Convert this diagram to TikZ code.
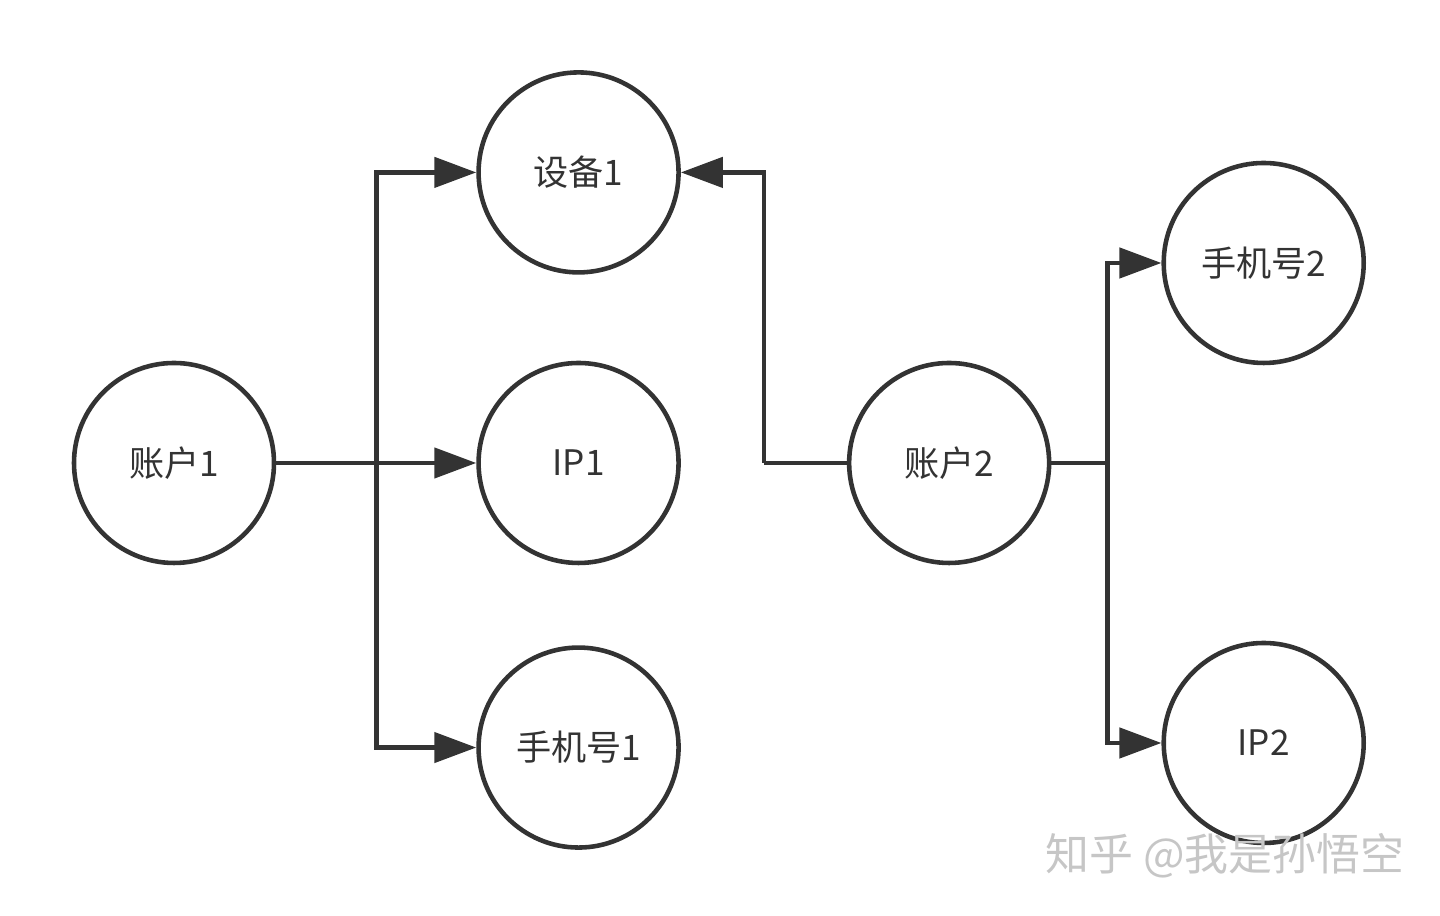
\documentclass[tikz,border=0pt]{standalone}
\usepackage{fontspec}
\setmainfont{Noto Sans CJK SC}
\usepackage{tikz}
\usetikzlibrary{arrows.meta, positioning}
\definecolor{ink}{HTML}{333333}

\begin{document}
\begin{tikzpicture}[
    entity/.style={draw=ink, circle, line width=1.3pt, minimum size=2cm, inner sep=0pt, font=\fontsize{10pt}{12pt}\selectfont, text=ink},
    link/.style={draw=ink, line width=1.3pt},
    tip/.style={link, -{Triangle[length=0.42cm, width=0.3cm]}}
]
        \useasboundingbox (0,0) rectangle (14.4,9.16);

        \node[entity] (acc1) at (1.74,4.53) {账户1};
        \node[entity, right=2cm of acc1] (ip1) {IP1};
        \node[entity, above=0.86cm of ip1] (dev1) {设备1};
        \node[entity, below=0.8cm of ip1] (phone1) {手机号1};
        \node[entity, right=1.66cm of ip1] (acc2) {账户2};
        \node[entity, right=1.1cm of acc2, yshift=2cm] (phone2) {手机号2};
        \node[entity, right=1.1cm of acc2, yshift=-2.8cm] (ip2) {IP2};

        \coordinate[right=1cm of acc1] (split1);
        \coordinate[left=0.83cm of acc2] (split2);
        \coordinate[right=0.56cm of acc2] (split3);

        \draw[link] (acc1.east) -- (split1);
        \draw[tip] (split1) |- (dev1.west);
        \draw[tip] (split1) -- (ip1.west);
        \draw[tip] (split1) |- (phone1.west);

        \draw[link] (acc2.west) -- (split2);
        \draw[tip] (split2) |- (dev1.east);

        \draw[link] (acc2.east) -- (split3);
        \draw[tip] (split3) |- (phone2.west);
        \draw[tip] (split3) |- (ip2.west);

        \node[text=gray!45, font=\fontsize{12.5pt}{14pt}\selectfont] (mark) at (12.25,0.6) {知乎 @我是孙悟空};
    \end{tikzpicture}
\end{document}
